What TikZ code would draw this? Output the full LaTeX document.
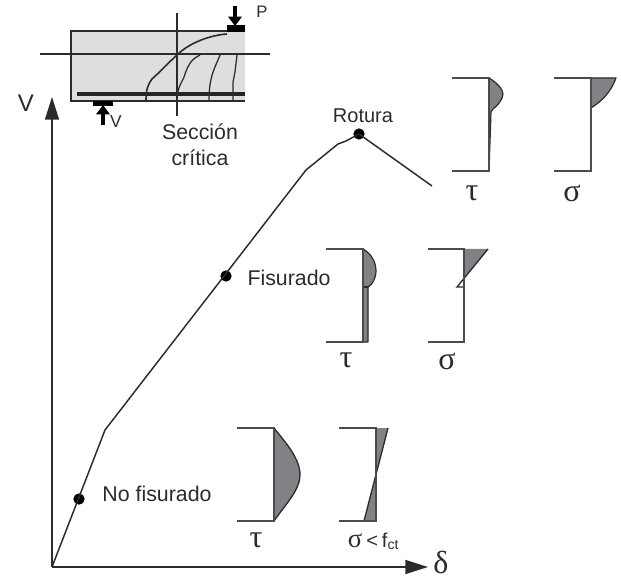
\documentclass[tikz,border=0pt]{standalone}
\usepackage{fontspec}
\setmainfont{Liberation Sans}
\newfontfamily\grk{Liberation Serif}
\usetikzlibrary{arrows.meta}
\definecolor{ink}{HTML}{2B2B2B}
\definecolor{shade}{HTML}{808285}
\definecolor{beamfill}{HTML}{DDDEDF}
\tikzset{
  lbl/.style={inner sep=0pt,text=ink,font=\fontsize{16}{18}\selectfont},
  sym/.style={inner sep=0pt,text=ink,font=\grk\fontsize{24}{26}\selectfont},
  thin line/.style={draw=ink,line width=0.85pt},
  frame/.style={draw=ink!85,line width=1.5pt},
  stress/.style={fill=shade,draw=ink,line width=1pt,line join=round},
  crack/.style={draw=ink,line width=0.95pt,line join=round},
  dot/.style={circle,fill=black,inner sep=0pt,minimum size=8.5pt},
  big arrow/.style={-{Triangle[length=17pt,width=10.5pt]},draw=ink,line width=1.2pt},
  load/.style={-{Triangle[length=7pt,width=10pt]},draw=black,line width=3pt},
}
\begin{document}
\begin{tikzpicture}[x=0.75pt,y=-0.75pt]
\useasboundingbox (0,0) rectangle (621,577);
% beam
\path[fill=beamfill] (71,31) rectangle (245,101);
\draw[draw=ink,line width=1.2pt] (245,31) -- (71,31) -- (71,101) -- (245,101);
\draw[thin line] (40,54) -- (270,54);
\draw[thin line] (177,13) -- (177,116);
\draw[draw=black!85,line width=2.6pt] (77,94) -- (245,94);
% cracks
\draw[crack,line width=1.2pt] (227,34) .. controls (212,35) and (190,42) .. (177,55) .. controls (168,63) and (160,72) .. (152,79) .. controls (148,84) and (146,90) .. (146,100);
\draw[crack] (200,55) .. controls (190,60) and (188,66) .. (185,74) .. controls (183,82) and (177,86) .. (177,100);
\draw[crack] (220,55) .. controls (216,66) and (209,75) .. (209,100);
\draw[crack] (237,55) -- (235,72) -- (233,82) -- (233,100);
% loads
\path[fill=black] (227,25) rectangle (245,32);
\coordinate (ptop) at (235,6);
\coordinate (pend) at (235,26);
\draw[load] (ptop) -- (pend);
\path[fill=black] (93,101) rectangle (113,106);
\coordinate (vbot) at (103,125);
\coordinate (vend) at (103,105);
\draw[load] (vbot) -- (vend);
\node[lbl,font=\fontsize{12.5}{14}\selectfont] (pl) at (262,12) {P};
\node[lbl,font=\fontsize{13}{14}\selectfont] (vl) at (116,122) {V};
\node[lbl,align=center,font=\fontsize{16}{19.5}\selectfont] (sc) at (200,145) {Sección\\crítica};
% axes
\coordinate (o) at (52,567);
\coordinate (yend) at (52,97);
\coordinate (xend) at (428,567);
\draw[big arrow] (o) -- (yend);
\draw[big arrow] (o) -- (xend);
\node[lbl,font=\fontsize{18}{20}\selectfont] (vaxis) at (26,103) {V};
\node[sym,font=\grk\fontsize{24}{26}\selectfont] (delta) at (441,562) {δ};
% curve
\coordinate (c1) at (105,430);
\coordinate (c2) at (306,170);
\coordinate (c3) at (338,144);
\coordinate (c5) at (432,186);
\node[dot] (d1) at (79,499) {};
\node[dot] (d2) at (226,276) {};
\node[dot] (d3) at (359,134) {};
\draw[draw=ink,line width=1.1pt,line join=round] (o) -- (c1) -- (c2) -- (c3) -- (346,141) -- (d3.center) -- (c5);
\node[lbl] (nf) at (157,494) {No fisurado};
\node[lbl] (fi) at (289,278) {Fisurado};
\node[lbl,font=\fontsize{15}{17}\selectfont] (ro) at (363,116) {Rotura};
% Rotura
\draw[stress,line width=0.9pt] (489,78) .. controls (496,82) and (503,89) .. (503,94) .. controls (503,100) and (496,107) .. (493,109) -- (491,112) -- (489,171) -- cycle;
\draw[frame] (452,78) -- (489,78) -- (489,171) -- (452,171);
\node[sym] (t3) at (472,193) {τ};
\draw[stress,line width=0.9pt] (591,78) -- (616,78) .. controls (611,92) and (602,101) .. (591,108) -- cycle;
\draw[frame] (554,78) -- (591,78) -- (591,171) -- (554,171);
\node[sym] (s3) at (572,193) {σ};
% Fisurado
\draw[stress,line width=0.9pt] (363,249) .. controls (372,254) and (376,263) .. (376,271) .. controls (376,279) and (371,286) .. (368,287) -- (368,342) -- (363,342) -- cycle;
\draw[draw=ink,line width=1pt] (363,287) -- (368,287);
\draw[frame] (326,249) -- (363,249) -- (363,342) -- (326,342);
\node[sym] (t2) at (346,360) {τ};
\path[fill=shade] (464,249) -- (488,249) -- (464,278) -- cycle;
\draw[draw=ink,line width=1pt] (488,249) -- (457,287) -- (464,287);
\draw[frame] (428,249) -- (464,249) -- (464,342) -- (428,342);
\node[sym] (s2) at (447,361) {σ};
% No fisurado
\draw[stress] (274,428) .. controls (285,442) and (300,458) .. (300,475) .. controls (300,490) and (285,505) .. (274,521) -- cycle;
\draw[frame] (237,428) -- (274,428) -- (274,521) -- (237,521);
\node[sym] (t1) at (256,540) {τ};
\path[fill=shade] (376,428) -- (388,428) -- (376,475) -- cycle;
\path[fill=shade] (376,475) -- (376,521) -- (364,521) -- cycle;
\draw[draw=ink,line width=1pt] (388,428) -- (364,521);
\draw[frame] (339,428) -- (376,428) -- (376,521) -- (339,521);
\node[inner sep=0pt,text=ink,anchor=base] (s1) at (373.5,547) {{\grk\fontsize{20}{22}\selectfont σ}\hspace{3pt}{\fontsize{15}{16}\selectfont <\hspace{3pt}f\textsubscript{ct}}};
\end{tikzpicture}
\end{document}
